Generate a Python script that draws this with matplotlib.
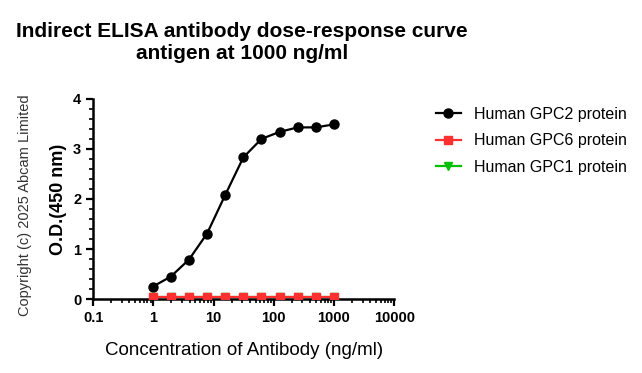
import matplotlib
matplotlib.use("Agg")
from matplotlib import pyplot as plt
from matplotlib.ticker import FixedLocator, MultipleLocator, LogLocator, NullFormatter
import numpy as np

plt.rcParams['font.family'] = ['Liberation Sans', 'DejaVu Sans']

conc = [1000, 500, 250, 125, 62.5, 31.25, 15.63, 7.81, 3.91, 1.95, 0.98]
gpc2 = [3.49, 3.43, 3.43, 3.34, 3.20, 2.83, 2.08, 1.31, 0.79, 0.45, 0.25]
gpc6 = [0.04, 0.04, 0.04, 0.04, 0.04, 0.04, 0.04, 0.04, 0.04, 0.04, 0.04]
gpc1 = [0.05, 0.05, 0.05, 0.05, 0.05, 0.05, 0.05, 0.05, 0.05, 0.05, 0.05]
xticks = [0.1, 1, 10, 100, 1000, 10000]
xlabels = ["0.1", "1", "10", "100", "1000", "10000"]

fig = plt.figure(figsize=(6.42, 3.73), dpi=100)
ax = fig.add_axes([0.145, 0.198, 0.469, 0.537])

ax.plot(conc, gpc2, color='black', marker='o', ms=6.5, lw=1.6, label='Human GPC2 protein')
ax.plot(conc, gpc1, color='#00c000', marker='v', ms=6, lw=1.6, label='Human GPC1 protein', zorder=2)
ax.plot(conc, gpc6, color='#ff3030', marker='s', ms=6, lw=1.6, label='Human GPC6 protein', zorder=3)

ax.set_xscale('log')
ax.set_xlim(0.1, 10000)
ax.set_ylim(0, 4)
ax.xaxis.set_major_locator(FixedLocator(xticks))
ax.set_xticklabels(xlabels)
ax.xaxis.set_minor_locator(LogLocator(base=10, subs=np.arange(2, 10)))
ax.xaxis.set_minor_formatter(NullFormatter())
ax.yaxis.set_major_locator(MultipleLocator(1))
ax.yaxis.set_minor_locator(MultipleLocator(0.2))

for s in ['top', 'right']:
    ax.spines[s].set_visible(False)
for s in ['left', 'bottom']:
    ax.spines[s].set_linewidth(1.8)
ax.tick_params(which='major', direction='out', length=5, width=1.6, labelsize=10.5)
ax.tick_params(which='minor', direction='out', length=3, width=1.2)
for lab in ax.get_xticklabels() + ax.get_yticklabels():
    lab.set_fontweight('bold')

ax.set_xlabel('Concentration of Antibody (ng/ml)', fontsize=13.5, labelpad=12)
ax.set_ylabel('O.D.(450 nm)', fontsize=13, fontweight='bold', labelpad=4)

fig.text(0.377, 0.94, 'Indirect ELISA antibody dose-response curve\nantigen at 1000 ng/ml',
         ha='center', va='top', fontsize=15, fontweight='bold', linespacing=1.2)
fig.text(0.039, 0.45, 'Copyright (c) 2025 Abcam Limited', rotation=90,
         ha='center', va='center', fontsize=10.5, color='#333333')

h, l = ax.get_legend_handles_labels()
order = [0, 2, 1]
fig.legend([h[i] for i in order], [l[i] for i in order], loc='upper left',
           bbox_to_anchor=(0.656, 0.752), frameon=False, fontsize=11.5,
           handlelength=1.6, labelspacing=0.72)

fig.savefig('out.png', dpi=100)
